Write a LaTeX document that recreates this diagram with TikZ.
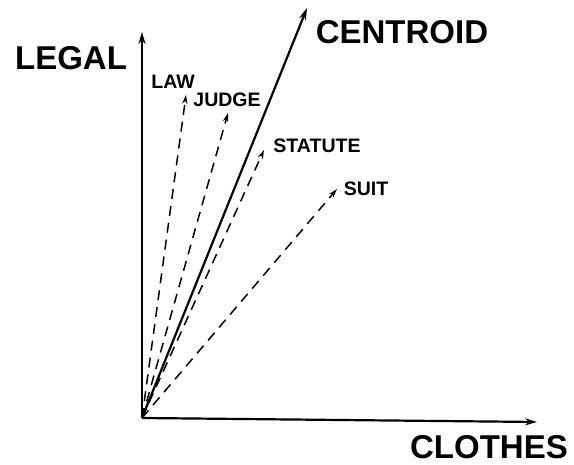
\documentclass[tikz,border=0pt]{standalone}
\usepackage{fontspec}
\setmainfont{Liberation Sans}
\usetikzlibrary{arrows.meta,positioning}
\tikzset{
  axis/.style={-{Stealth[length=12pt,width=7pt]},line width=2.2pt},
  term/.style={-{Stealth[length=9pt,width=5.5pt]},line width=1.5pt,dash pattern=on 10pt off 7pt},
  biglabel/.style={font=\fontsize{33}{36}\selectfont\bfseries,inner sep=0pt},
  smalllabel/.style={font=\fontsize{19.5}{22}\selectfont\bfseries,inner sep=0pt},
}

\begin{document}
\begin{tikzpicture}[x=1pt,y=1pt]
  \useasboundingbox (0,0) rectangle (574,465);
  % origin and vector tips
  \coordinate (o) at (142,47);
  \coordinate (legal) at (142,433);
  \coordinate (clothes) at (537,43);
  \coordinate (centroid) at (307,457);
  \coordinate (law) at (186,370);
  \coordinate (judge) at (228,352);
  \coordinate (statute) at (264,315);
  \coordinate (suit) at (337,276);
  % axes
  \draw[axis] (o) -- (legal);
  \draw[axis] (o) -- (clothes);
  \draw[axis] (o) -- (centroid);
  % term vectors
  \foreach \t in {law,judge,statute,suit}
    \draw[term] (o) -- (\t);
  % labels
  \node[biglabel] (legaltext) at (71,407) {LEGAL};
  \node[biglabel] (centroidtext) at (402,433) {CENTROID};
  \node[biglabel] (clothestext) at (489,18) {CLOTHES};
  \node[smalllabel] (lawtext) at (173,383) {LAW};
  \node[smalllabel] (judgetext) at (227,365) {JUDGE};
  \node[smalllabel] (statutetext) at (317,319) {STATUTE};
  \node[smalllabel] (suittext) at (366,276) {SUIT};
\end{tikzpicture}
\end{document}
